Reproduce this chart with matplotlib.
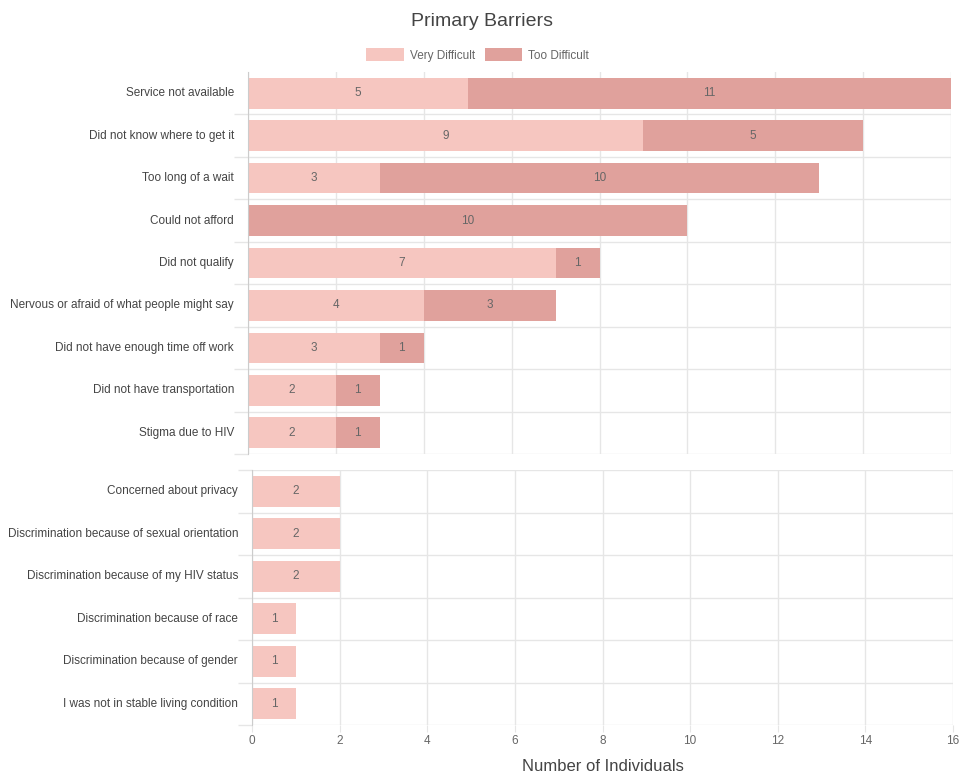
import numpy as np
import matplotlib.pyplot as plt

plt.rcParams['font.family'] = ['Liberation Sans', 'DejaVu Sans']

# top chart (stacked)
top_cats = ["Service not available", "Did not know where to get it", "Too long of a wait",
            "Could not afford", "Did not qualify", "Nervous or afraid of what people might say",
            "Did not have enough time off work", "Did not have transportation", "Stigma due to HIV"]
very_difficult = [5, 9, 3, 0, 7, 4, 3, 2, 2]
too_difficult = [11, 5, 10, 10, 1, 3, 1, 1, 1]

# bottom chart
bottom_cats = ["Concerned about privacy", "Discrimination because of sexual orientation",
               "Discrimination because of my HIV status", "Discrimination because of race",
               "Discrimination because of gender", "I was not in stable living condition"]
bottom_vals = [2, 2, 2, 1, 1, 1]

xticks = [0, 2, 4, 6, 8, 10, 12, 14, 16]

light = "#f6c6c0"
dark = "#e0a19c"
grid_c = "#e6e6e6"
txt = "#666666"

fig = plt.figure(figsize=(9.63, 7.73), dpi=100)
ax1 = fig.add_axes([248/963, 1-454/773, 703/963, 382/773])
ax2 = fig.add_axes([252/963, 1-725/773, 701/963, 255/773])


def style(ax, cats, show_x, top_line):
    n = len(cats)
    ax.set_xlim(0, 16)
    ax.set_ylim(n - 0.5, -0.5)
    ax.set_yticks(range(n))
    ax.set_yticklabels(cats, fontsize=8.5, color="#444444", va="center")
    start = -0.5 if top_line else 0.5
    ax.set_yticks(np.arange(start, n, 1.0), minor=True)
    ax.tick_params(axis="y", which="major", length=0, pad=10)
    ax.tick_params(axis="y", which="minor", length=10, color=grid_c, width=1)
    ax.set_xticks(xticks)
    ax.grid(axis="x", color=grid_c, lw=1)
    ax.grid(axis="y", which="minor", color=grid_c, lw=1)
    ax.set_axisbelow(True)
    for s in ["top", "right", "bottom"]:
        ax.spines[s].set_visible(False)
    ax.spines["left"].set_color("#cccccc")
    if show_x:
        ax.tick_params(axis="x", length=5, color=grid_c, labelsize=8.5, labelcolor=txt, pad=2)
    else:
        ax.tick_params(axis="x", length=0, labelbottom=False)


style(ax1, top_cats, False, False)
y = np.arange(len(top_cats))
b1 = ax1.barh(y, very_difficult, height=0.72, color=light, label="Very Difficult")
b2 = ax1.barh(y, too_difficult, left=very_difficult, height=0.72, color=dark, label="Too Difficult")
for bars in (b1, b2):
    ax1.bar_label(bars, labels=[str(int(v)) if v else "" for v in bars.datavalues],
                  label_type="center", fontsize=8.5, color=txt)

style(ax2, bottom_cats, True, True)
b3 = ax2.barh(np.arange(len(bottom_cats)), bottom_vals, height=0.72, color=light)
ax2.bar_label(b3, label_type="center", fontsize=8.5, color=txt)
ax2.set_xlabel("Number of Individuals", fontsize=12, color="#444444", labelpad=9)

fig.text(0.5, 1-21/773, "Primary Barriers", ha="center", va="center", fontsize=14, color="#444444")
fig.legend(handles=[b1, b2], loc="center", bbox_to_anchor=(0.496, 1-55/773), ncol=2,
           frameon=False, fontsize=8.5, labelcolor=txt, handlelength=3.2, handleheight=1.2,
           columnspacing=0.8, handletextpad=0.5)

fig.savefig("out.png", dpi=100)
